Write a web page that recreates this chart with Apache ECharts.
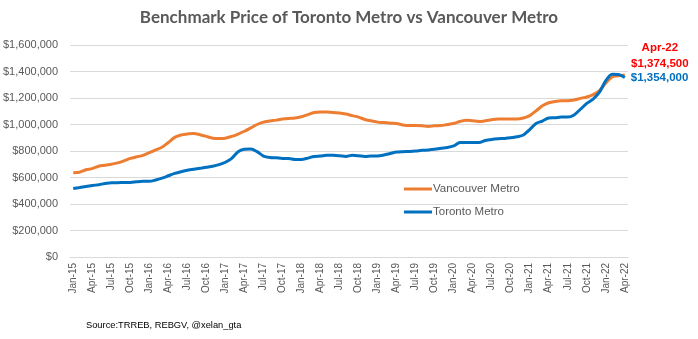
<!DOCTYPE html>
<html><head><meta charset="utf-8">
<script src="https://cdn.jsdelivr.net/npm/echarts@6/dist/echarts.min.js"></script>
<style>html,body{margin:0;padding:0;background:#fff}#c{width:698px;height:339px}</style>
</head><body><div id="c"></div>
<script>
const months = ['Jan','Feb','Mar','Apr','May','Jun','Jul','Aug','Sep','Oct','Nov','Dec'];
const categories = [];
for (let y = 15; y <= 22; y++) for (let m = 0; m < 12; m++) { if (y === 22 && m > 3) break; categories.push(months[m] + '-' + y); }

const vancouver = [636000,640000,658000,667000,685000,692000,700000,710000,726000,744000,756000,767000,
 787000,808000,828000,864000,903000,921000,928000,933000,923000,910000,897000,895000,
 897000,910000,928000,949000,974000,1000000,1018000,1026000,1033000,1041000,1046000,1049000,
 1059000,1074000,1090000,1095000,1095000,1090000,1087000,1079000,1067000,1056000,1038000,1028000,
 1018000,1015000,1010000,1008000,997000,992000,992000,990000,985000,990000,992000,1000000,
 1008000,1023000,1033000,1028000,1023000,1028000,1036000,1041000,1041000,1041000,1041000,1049000,
 1067000,1103000,1141000,1164000,1174000,1179000,1179000,1185000,1197000,1208000,1226000,1256000,
 1313000,1359000,1367000,1374500];
const toronto = [517000,524000,532000,539000,546000,554000,561000,561000,563000,563000,568000,571000,
 571000,581000,595000,613000,631000,644000,654000,662000,669000,677000,685000,697000,
 715000,744000,795000,813000,815000,795000,762000,751000,749000,744000,744000,736000,
 736000,746000,759000,762000,767000,767000,764000,759000,767000,764000,759000,763000,
 763000,770000,781000,792000,795000,797000,800000,805000,808000,813000,820000,826000,
 838000,864000,864000,864000,864000,879000,887000,892000,895000,900000,908000,921000,
 962000,1008000,1026000,1049000,1051000,1056000,1056000,1072000,1115000,1159000,1192000,1244000,
 1331000,1379000,1377000,1354000];
const yTicks = [0,200000,400000,600000,800000,1000000,1200000,1400000,1600000];
const lastLabel = 'Apr-22';

const fmt = v => '$' + v.toLocaleString('en-US');
const n = categories.length;
const chart = echarts.init(document.getElementById('c'));
chart.setOption({
  animation: false,
  textStyle: { fontFamily: 'Liberation Sans' },
  title: { text: 'Benchmark Price of Toronto Metro vs Vancouver Metro', left: 'center', top: 4,
    textStyle: { fontFamily: 'Lato', fontWeight: 'bold', fontSize: 17, color: '#595959' } },
  graphic: [{ type: 'text', left: 86, top: 321, style: { text: 'Source:TRREB, REBGV, @xelan_gta', font: '9.3px "Liberation Sans"', fill: '#000' } }],
  legend: { orient: 'vertical', left: 399, top: 178, itemGap: 11, itemWidth: 28, itemHeight: 3, icon: 'rect',
    textStyle: { color: '#595959', fontSize: 11.5, padding: [0,0,0,-4] },
    data: ['Vancouver Metro', 'Toronto Metro'] },
  grid: { left: 70, right: 70, top: 45, bottom: 82 },
  xAxis: { type: 'category', data: categories, boundaryGap: true,
    axisLine: { lineStyle: { color: '#d9d9d9' } }, axisTick: { show: false },
    axisLabel: { interval: 2, rotate: 90, color: '#595959', fontSize: 10, margin: 6 } },
  yAxis: { type: 'value', min: yTicks[0], max: yTicks[yTicks.length-1], interval: yTicks[1]-yTicks[0],
    axisLine: { show: false }, axisTick: { show: false },
    splitLine: { lineStyle: { color: '#d9d9d9' } },
    axisLabel: { color: '#595959', fontSize: 11, margin: 12, formatter: fmt } },
  series: [
    { name: 'Vancouver Metro', type: 'line', data: vancouver, smooth: 0.3, showSymbol: false, z: 2,
      lineStyle: { color: '#ED7D31', width: 3 }, itemStyle: { color: '#ED7D31' },
      endLabel: { show: true, formatter: lastLabel + '\n' + fmt(vancouver[n-1]), color: '#FF0000', fontWeight: 'bold', fontSize: 11.5,
        align: 'center', lineHeight: 16, offset: [27, -19] } },
    { name: 'Toronto Metro', type: 'line', data: toronto, smooth: 0.3, showSymbol: false, z: 3,
      lineStyle: { color: '#0070C0', width: 3 }, itemStyle: { color: '#0070C0' },
      endLabel: { show: true, formatter: fmt(toronto[n-1]), color: '#0070C0', fontWeight: 'bold', fontSize: 11.5,
        distance: 6, offset: [0, 0] } }
  ]
});
</script></body></html>
